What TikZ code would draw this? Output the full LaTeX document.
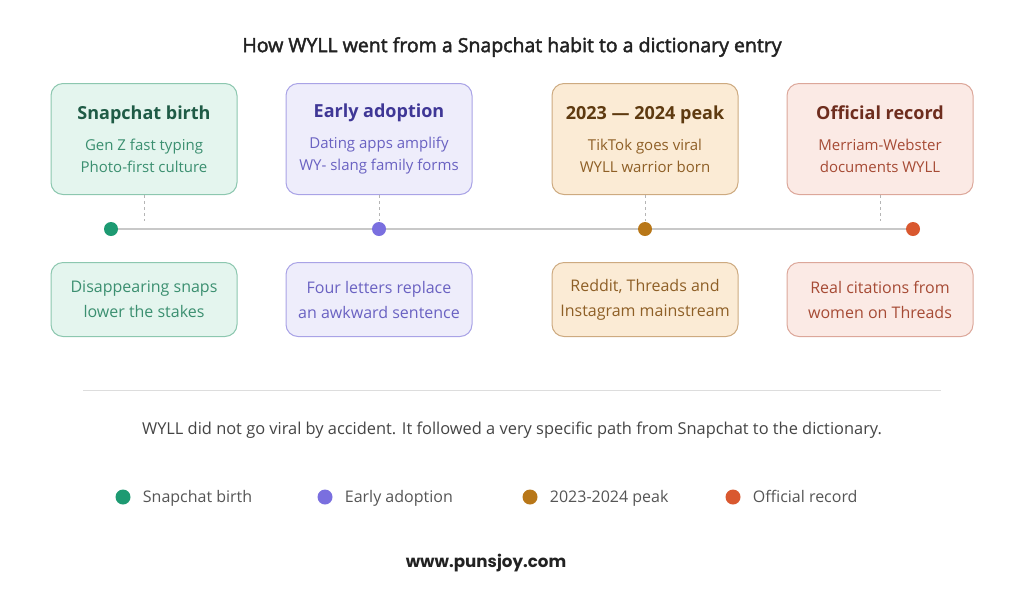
\documentclass[tikz,border=0pt]{standalone}
\usepackage{fontspec}
\setmainfont{Open Sans}
\newfontfamily\headfont{Open Sans}[FakeBold=2.2]
\newfontfamily\sitefont{Poppins}
\usetikzlibrary{positioning}
% phase colours
\definecolor{snapfill}{HTML}{E4F5EE}
\definecolor{snapline}{HTML}{8CC7AF}
\definecolor{snaptitle}{HTML}{1F5B46}
\definecolor{snaptext}{HTML}{3B8F70}
\definecolor{snapdot}{HTML}{1D9A72}
\definecolor{earlyfill}{HTML}{EEEDFB}
\definecolor{earlyline}{HTML}{A9A3E6}
\definecolor{earlytitle}{HTML}{3F3796}
\definecolor{earlytext}{HTML}{6A62C2}
\definecolor{earlydot}{HTML}{7A6FDF}
\definecolor{peakfill}{HTML}{FBEBD5}
\definecolor{peakline}{HTML}{CDAA80}
\definecolor{peaktitle}{HTML}{5E3A10}
\definecolor{peaktext}{HTML}{8E5F26}
\definecolor{peakdot}{HTML}{B87718}
\definecolor{recordfill}{HTML}{FBEAE5}
\definecolor{recordline}{HTML}{DCA79A}
\definecolor{recordtitle}{HTML}{6E2D1E}
\definecolor{recordtext}{HTML}{A64B35}
\definecolor{recorddot}{HTML}{D9582F}
\definecolor{axisgray}{HTML}{C8C8C8}
\definecolor{tickgray}{HTML}{B5B5B5}
\definecolor{rulegray}{HTML}{DDDDDD}
\definecolor{inkgray}{HTML}{222222}
\definecolor{notegray}{HTML}{444444}
\definecolor{keygray}{HTML}{555555}

\tikzset{
  topbox/.style={draw=#1line, fill=#1fill, text=#1text, line width=1pt,
    rounded corners=12pt, minimum width=186pt, minimum height=111pt,
    align=center, font=\fontsize{15}{22}\selectfont},
  lowbox/.style={draw=#1line, fill=#1fill, text=#1text, line width=1pt,
    rounded corners=12pt, minimum width=186pt, minimum height=74pt,
    align=center, font=\fontsize{16}{25}\selectfont},
  dot/.style={circle, fill=#1, inner sep=0pt, minimum size=14pt},
  tick/.style={tickgray, line width=0.8pt, dash pattern=on 3pt off 3pt},
  keytext/.style={text=keygray, inner sep=0pt, anchor=west,
    text height=11pt, text depth=0pt, font=\fontsize{16}{18}\selectfont}
}
\newcommand{\phasetitle}[2]{{\color{#1}\bfseries\fontsize{18}{22}\selectfont #2}}

\begin{document}
\begin{tikzpicture}[x=1pt, y=-1pt]
\useasboundingbox (0,0) rectangle (1024,614);

% Title
\node[text=inkgray, font=\headfont\fontsize{19.5}{22}\selectfont] (title) at (512,47)
  {How WYLL went from a Snapchat habit to a dictionary entry};

% Top boxes
\node[topbox=snap] (snaptop) at (144,139)
  {\phasetitle{snaptitle}{Snapchat birth}\\[9pt]Gen Z fast typing\\Photo-first culture};
\node[topbox=early] (earlytop) at (379,139)
  {\phasetitle{earlytitle}{Early adoption}\\[9pt]Dating apps amplify\\WY- slang family forms};
\node[topbox=peak] (peaktop) at (645,139)
  {\phasetitle{peaktitle}{2023 — 2024 peak}\\[9pt]TikTok goes viral\\WYLL warrior born};
\node[topbox=record] (recordtop) at (880,139)
  {\phasetitle{recordtitle}{Official record}\\[9pt]Merriam-Webster\\documents WYLL};

% Timeline
\node[dot=snapdot] (snapmark) at (111,229) {};
\node[dot=earlydot] (earlymark) at (379,229) {};
\node[dot=peakdot] (peakmark) at (645,229) {};
\node[dot=recorddot] (recordmark) at (913,229) {};
\draw[axisgray, line width=2.5pt] (snapmark) -- (earlymark) -- (peakmark) -- (recordmark);

% Ticks
\coordinate (snaptick) at (144,221);
\coordinate (earlytick) at (379,221);
\coordinate (peaktick) at (645,221);
\coordinate (recordtick) at (880,221);
\draw[tick] (snaptop.south) -- (snaptick);
\draw[tick] (earlytop.south) -- (earlytick);
\draw[tick] (peaktop.south) -- (peaktick);
\draw[tick] (recordtop.south) -- (recordtick);

% Bottom boxes
\node[lowbox=snap] (snaplow) at (144,299.5) {Disappearing snaps\\lower the stakes};
\node[lowbox=early] (earlylow) at (379,299.5) {Four letters replace\\an awkward sentence};
\node[lowbox=peak] (peaklow) at (645,299.5) {Reddit, Threads and\\Instagram mainstream};
\node[lowbox=record] (recordlow) at (880,299.5) {Real citations from\\women on Threads};

% Separator
\coordinate (ruleleft) at (83,390);
\coordinate (ruleright) at (941,390);
\draw[rulegray, line width=1pt] (ruleleft) -- (ruleright);

% Caption
\node[text=notegray, font=\fontsize{16.4}{18}\selectfont] (note) at (512,430)
  {WYLL did not go viral by accident. It followed a very specific path from Snapchat to the dictionary.};

% Legend
\foreach \x/\c/\t [count=\i] in {123/snap/Snapchat birth, 325/early/Early adoption,
    530/peak/2023-2024 peak, 733/record/Official record} {
  \node[dot=\c dot, minimum size=15pt] (key\i) at (\x,497) {};
  \node[keytext, right=12pt of key\i] (keylabel\i) {\t};
}

% Footer
\node[text=inkgray, font=\sitefont\bfseries\fontsize{16.7}{18}\selectfont] (site) at (486,563)
  {www.punsjoy.com};
\end{tikzpicture}
\end{document}
